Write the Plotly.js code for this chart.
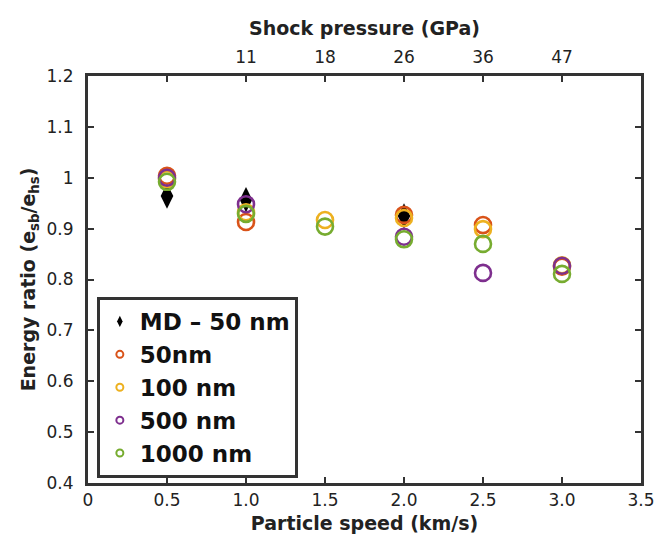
<!DOCTYPE html>
<html>
<head>
<meta charset="utf-8">
<script src="https://cdn.plot.ly/plotly-3.0.1.min.js"></script>
<style>html,body{margin:0;padding:0;background:#fff;}#chart{width:658px;height:546px;}</style>
</head>
<body>
<div id="chart"></div>
<script>
// Data
const speedMD = [0.5, 1.0, 2.0];
const ratioMD = [0.964, 0.957, 0.925];

const speed50 = [0.5, 1.0, 2.0, 2.5, 3.0];
const ratio50 = [1.004, 0.913, 0.927, 0.907, 0.825];

const speed100 = [0.5, 1.0, 1.5, 2.0, 2.5, 3.0];
const ratio100 = [0.997, 0.932, 0.917, 0.921, 0.899, 0.828];

const speed500 = [0.5, 1.0, 2.0, 2.5, 3.0];
const ratio500 = [1.0, 0.948, 0.884, 0.813, 0.827];

const speed1000 = [0.5, 1.0, 1.5, 2.0, 2.5, 3.0];
const ratio1000 = [0.992, 0.929, 0.904, 0.879, 0.870, 0.811];

const pressureTickSpeeds = [1.0, 1.5, 2.0, 2.5, 3.0];
const pressureTickLabels = ['11', '18', '26', '36', '47'];

const xTickVals = [0, 0.5, 1.0, 1.5, 2.0, 2.5, 3.0, 3.5];
const xTickText = ['0', '0.5', '1.0', '1.5', '2.0', '2.5', '3.0', '3.5'];
const yTickVals = [0.4, 0.5, 0.6, 0.7, 0.8, 0.9, 1.0, 1.1, 1.2];
const yTickText = ['0.4', '0.5', '0.6', '0.7', '0.8', '0.9', '1', '1.1', '1.2'];

const seriesNames = ['MD \u2013 50 nm', '50nm', '100 nm', '500 nm', '1000 nm'];
const colors = ['#000000', '#D95319', '#EDB120', '#7E2F8E', '#77AC30'];

const circleSeries = [
  [speed50, ratio50],
  [speed100, ratio100],
  [speed500, ratio500],
  [speed1000, ratio1000]
];

const traces = [];
traces.push({
  x: speedMD, y: ratioMD, type: 'scatter', mode: 'markers', showlegend: false,
  marker: {symbol: 'diamond-tall', size: 18, color: '#000'}
});
circleSeries.forEach((s, i) => {
  traces.push({
    x: s[0], y: s[1], type: 'scatter', mode: 'markers', showlegend: false,
    marker: {symbol: 'circle-open', size: 16, color: colors[i + 1], line: {width: 2.6, color: colors[i + 1]}}
  });
});
// legend-only entries with small markers
traces.push({
  x: [null], y: [null], type: 'scatter', mode: 'markers', name: seriesNames[0],
  marker: {symbol: 'diamond-tall', size: 8, color: '#000'}
});
for (let i = 1; i < 5; i++) {
  traces.push({
    x: [null], y: [null], type: 'scatter', mode: 'markers', name: seriesNames[i],
    marker: {symbol: 'circle-open', size: 7, color: colors[i], line: {width: 2, color: colors[i]}}
  });
}
// invisible trace to anchor the top axis
traces.push({
  x: pressureTickSpeeds, y: pressureTickSpeeds.map(() => null), xaxis: 'x2', type: 'scatter',
  mode: 'markers', showlegend: false, hoverinfo: 'skip', marker: {opacity: 0}
});

const axisColor = '#333333';
const tickFont = {family: 'DejaVu Sans', size: 17, color: '#222'};
const titleFont = {family: 'DejaVu Sans', size: 19, color: '#222', weight: 'bold'};

const layout = {
  width: 658, height: 546,
  margin: {l: 88, r: 17, t: 76, b: 63},
  paper_bgcolor: '#fff', plot_bgcolor: '#fff',
  showlegend: true,
  xaxis: {
    range: [0, 3.5], tickvals: xTickVals, ticktext: xTickText,
    ticks: 'inside', ticklen: 6, tickwidth: 2, tickcolor: axisColor,
    showline: true, linewidth: 3, linecolor: axisColor, mirror: 'ticks',
    showgrid: false, zeroline: false, tickfont: tickFont,
    title: {text: 'Particle speed (km/s)', font: titleFont, standoff: 8}
  },
  xaxis2: {
    range: [0, 3.5], overlaying: 'x', side: 'top', anchor: 'y',
    tickvals: pressureTickSpeeds, ticktext: pressureTickLabels,
    ticks: '', showline: false, showgrid: false, zeroline: false, tickfont: tickFont,
    ticklabelstandoff: 9,
    title: {text: 'Shock pressure (GPa)', font: titleFont, standoff: 5}
  },
  yaxis: {
    range: [0.4, 1.2], tickvals: yTickVals, ticktext: yTickText,
    ticks: 'inside', ticklen: 6, tickwidth: 2, tickcolor: axisColor,
    showline: true, linewidth: 3, linecolor: axisColor, mirror: 'ticks',
    showgrid: false, zeroline: false, tickfont: tickFont,
    ticklabelstandoff: 8,
    title: {text: 'Energy ratio (e<sub>sb</sub>/e<sub>hs</sub>)', font: titleFont, standoff: 6}
  },
  legend: {
    x: 0.016, y: 0.457, xanchor: 'left', yanchor: 'top',
    bgcolor: '#fff', bordercolor: axisColor, borderwidth: 3,
    font: {family: 'DejaVu Sans', size: 23, color: '#111', weight: 'bold'},
    tracegroupgap: 0, itemsizing: 'trace'
  }
};

Plotly.newPlot('chart', traces, layout, {staticPlot: true, displayModeBar: false});
</script>
</body>
</html>
